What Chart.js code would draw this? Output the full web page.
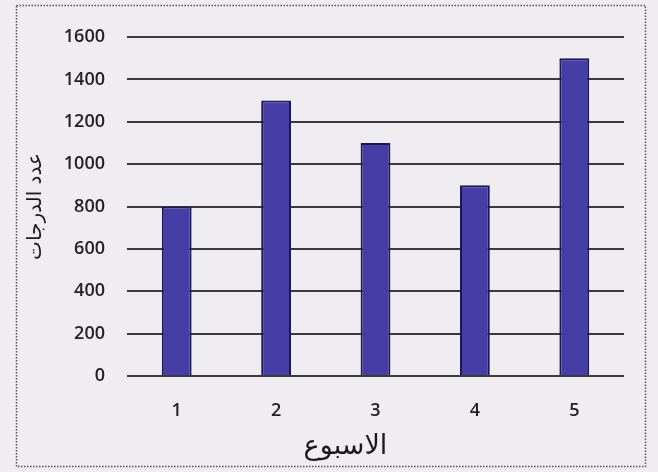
<!DOCTYPE html>
<html>
<head>
<meta charset="utf-8">
<script src="https://cdn.jsdelivr.net/npm/chart.js@4/dist/chart.umd.min.js"></script>
<style>
  html, body { margin: 0; padding: 0; background: #efedf1; }
  #wrap { position: absolute; left: 0; top: 0; width: 658px; height: 472px; }
</style>
</head>
<body>
<div id="wrap"><canvas id="c" width="658" height="472"></canvas></div>
<script>
// Weekly totals
const weeks = ['1', '2', '3', '4', '5'];
const scores = [800, 1300, 1100, 900, 1500];
const xTitle = 'الاسبوع';
const yTitle = 'عدد الدرجات';

// Dotted frame around the whole chart
const framePlugin = {
  id: 'frame',
  beforeDraw(chart) {
    const ctx = chart.ctx;
    ctx.save();
    ctx.strokeStyle = '#555';
    ctx.lineWidth = 1.5;
    ctx.setLineDash([1.5, 1.5]);
    ctx.strokeRect(16.5, 5.5, 629, 461);
    ctx.restore();
  }
};

const tickFont = { family: 'Open Sans', size: 18, weight: '600' };

new Chart(document.getElementById('c'), {
  type: 'bar',
  data: {
    labels: weeks,
    datasets: [{
      data: scores,
      backgroundColor: '#463da6',
      borderColor: '#1c1a55',
      borderWidth: 2,
      barPercentage: 0.6,
      categoryPercentage: 0.5
    }]
  },
  options: {
    responsive: false,
    animation: false,
    devicePixelRatio: 1,
    layout: { padding: { left: 24, right: 34, top: 37, bottom: 9 } },
    plugins: { legend: { display: false }, tooltip: { enabled: false } },
    scales: {
      x: {
        grid: { display: false, drawTicks: false },
        border: { display: false },
        ticks: { color: '#222', padding: 24, font: tickFont },
        title: {
          display: true,
          // trailing spaces nudge the title a little left of the axis centre
          text: xTitle + '       ',
          color: '#1a1a1a',
          font: { family: 'DejaVu Sans', size: 27 },
          padding: { top: 0, bottom: 0 }
        },
        afterFit(scale) { scale.height = 87; }
      },
      y: {
        min: 0, max: 1600,
        ticks: {
          stepSize: 200, color: '#222', padding: 22, font: tickFont,
          callback: (v) => String(v)
        },
        grid: { color: '#3a3a3a', lineWidth: 2, drawTicks: false },
        border: { display: false },
        title: {
          display: true, text: yTitle, color: '#1a1a1a',
          font: { family: 'DejaVu Sans', size: 20 },
          padding: { top: 0, bottom: 0 }
        },
        afterFit(scale) { scale.width = 103; }
      }
    }
  },
  plugins: [framePlugin]
});
</script>
</body>
</html>
